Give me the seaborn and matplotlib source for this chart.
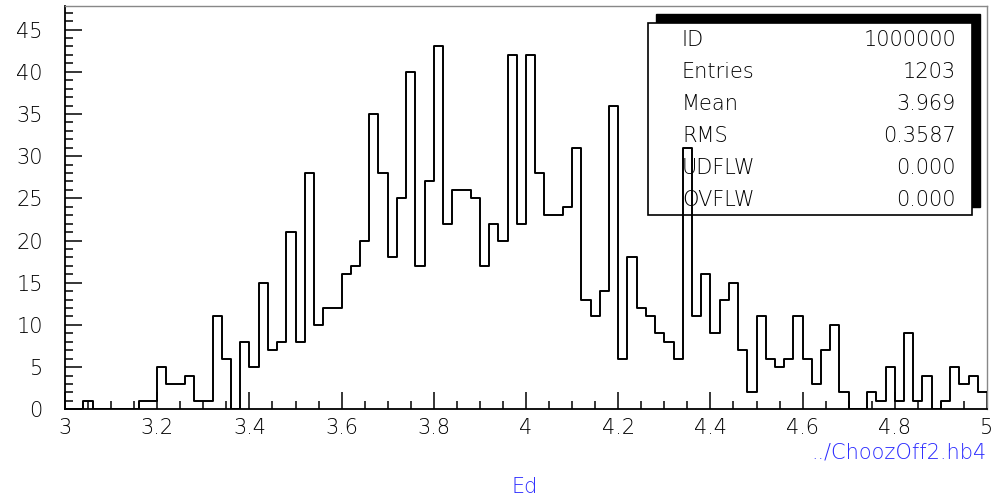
import numpy as np
import pandas as pd
import matplotlib
matplotlib.use('Agg')
import matplotlib.pyplot as plt
from matplotlib.patches import Rectangle
from matplotlib.ticker import MultipleLocator
import seaborn as sns

# histogram contents, 100 bins of 0.02 between 3 and 5
counts = [0, 0, 1, 0, 0, 0, 0, 0, 1, 1,
          5, 3, 3, 4, 1, 1, 11, 6, 0, 8,
          5, 15, 7, 8, 21, 8, 28, 10, 12, 12,
          16, 17, 20, 35, 28, 18, 25, 40, 17, 27,
          43, 22, 26, 26, 25, 17, 22, 20, 42, 22,
          42, 28, 23, 23, 24, 31, 13, 11, 14, 36,
          6, 18, 12, 11, 9, 8, 6, 31, 11, 16,
          9, 13, 15, 7, 2, 11, 6, 5, 6, 11,
          6, 3, 7, 10, 2, 0, 0, 2, 1, 5,
          1, 9, 1, 4, 0, 1, 5, 3, 4, 2]
x_min, x_max, n_bins = 3.0, 5.0, 100
y_max = 47.8

xtick_values = [3.0, 3.2, 3.4, 3.6, 3.8, 4.0, 4.2, 4.4, 4.6, 4.8, 5.0]
xtick_labels = ['3', '3.2', '3.4', '3.6', '3.8', '4', '4.2', '4.4', '4.6', '4.8', '5']
ytick_values = [0, 5, 10, 15, 20, 25, 30, 35, 40, 45]

stat_names = ['ID', 'Entries', 'Mean', 'RMS', 'UDFLW', 'OVFLW']
stat_values = ['1000000', '1203', '3.969', '0.3587', '0.000', '0.000']

file_label = '../ChoozOff2.hb4'
x_title = 'Ed'

sns.set_style('white')
plt.rcParams['font.family'] = ['DejaVu Sans']
plt.rcParams['font.weight'] = 'light'

edges = np.linspace(x_min, x_max, n_bins + 1)
df = pd.DataFrame({'Ed': 0.5 * (edges[:-1] + edges[1:]), 'count': counts})

W, H = 992, 501
fig = plt.figure(figsize=(W / 100, H / 100), dpi=100)
L, R, T, B = 65, 987, 6, 409.3
ax = fig.add_axes([L / W, (H - B) / H, (R - L) / W, (B - T) / H])

sns.histplot(data=df, x='Ed', weights='count', bins=n_bins, binrange=(x_min, x_max),
             element='step', fill=False, color='black', linewidth=1.4, ax=ax, zorder=3)

ax.set_xlim(x_min, x_max)
ax.set_ylim(0, y_max)
ax.set_xlabel('')
ax.set_ylabel('')
ax.set_xticks(xtick_values)
ax.set_xticklabels(xtick_labels)
ax.set_yticks(ytick_values)
ax.xaxis.set_minor_locator(MultipleLocator(0.05))
ax.yaxis.set_minor_locator(MultipleLocator(1))
ax.tick_params(which='both', direction='in', color='black', width=1.1,
               labelsize=15, labelcolor='black', bottom=True, left=True, top=False, right=False)
ax.tick_params(which='major', length=12.5)
ax.tick_params(which='minor', length=6)
ax.tick_params(axis='y', which='major', pad=16)
ax.tick_params(axis='x', which='major', pad=6)

for side in ['left', 'bottom']:
    ax.spines[side].set_color('black')
    ax.spines[side].set_linewidth(1.3)
for side in ['top', 'right']:
    ax.spines[side].set_color('#888888')
    ax.spines[side].set_linewidth(1.0)


def to_ax(px, py):
    return (px - L) / (R - L), (B - py) / (B - T)


# stats box with shadow
sx0, sy0 = to_ax(656, 206.5)
sx1, sy1 = to_ax(980, 14)
ax.add_patch(Rectangle((sx0, sy0), sx1 - sx0, sy1 - sy0, transform=ax.transAxes,
                       facecolor='black', edgecolor='black', zorder=1.5))
bx0, by0 = to_ax(648.3, 215)
bx1, by1 = to_ax(971.7, 22.7)
ax.add_patch(Rectangle((bx0, by0), bx1 - bx0, by1 - by0, transform=ax.transAxes,
                       facecolor='white', edgecolor='black', linewidth=1.2, zorder=1.6))
for i, (name, val) in enumerate(zip(stat_names, stat_values)):
    yy = 40 + 32 * i
    ax.text(*to_ax(682, yy), name, transform=ax.transAxes, ha='left', va='center',
            fontsize=15, color='black', zorder=1.7)
    ax.text(*to_ax(956, yy), val, transform=ax.transAxes, ha='right', va='center',
            fontsize=15, color='black', zorder=1.7)

fig.text(986 / W, 1 - 453 / H, file_label, ha='right', va='center', fontsize=15, color='#2a2aff')
fig.text(525 / W, 1 - 487 / H, x_title, ha='center', va='center', fontsize=15, color='#2a2aff')

fig.savefig('out.png', dpi=100)
